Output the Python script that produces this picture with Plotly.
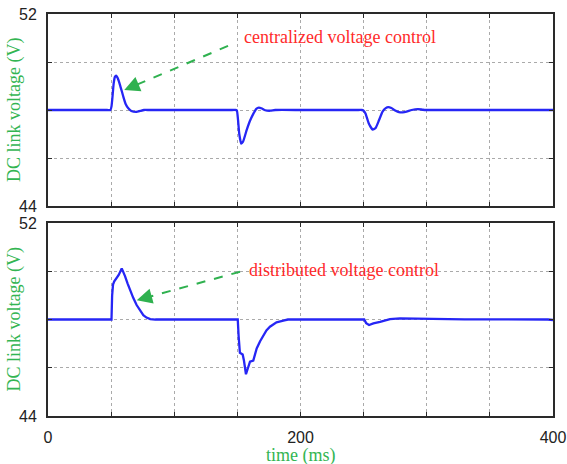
import plotly.graph_objects as go

# ---- data ----
t_central = [0, 20, 40, 47, 49.5, 50.3, 51, 52, 53, 54, 55, 57, 59.7, 61.5, 63.6, 66, 70, 73, 76, 80, 100, 130,
             145, 148.5, 149.6, 150.5, 151.5, 153, 154.5, 157.4, 160, 162.7, 165, 167, 169.5, 172, 176, 180, 200, 230,
             245, 248.5, 249.8, 251.5, 254, 257.2, 259.5, 262, 265, 267.5, 269.6, 272, 275, 278, 281, 284,
             288, 293, 297, 300, 320, 350, 380, 400]
v_central = [48, 48, 48, 48, 48, 48.15, 48.5, 49.1, 49.38, 49.43, 49.35, 49.05, 48.55, 48.25, 48.07, 47.96, 47.92, 47.96, 48.0, 48.0, 48, 48,
             48, 48, 47.98, 47.6, 47.0, 46.6, 46.68, 47.17, 47.55, 47.85, 48.05, 48.1, 48.06, 47.99, 47.97, 48.0, 48, 48,
             48, 48, 47.98, 47.85, 47.45, 47.18, 47.25, 47.55, 47.93, 48.08, 48.12, 48.08, 47.98, 47.91, 47.9, 47.93,
             48.0, 48.04, 48.01, 48, 48, 48, 48, 48]

t_distrib = [0, 50.3, 50.8, 51.5, 52.5, 54.4, 56, 58.4, 59.5, 61, 63, 65, 67.5, 70.2, 73, 75.5, 78, 81, 85,
             150.3, 151, 152, 154.2, 155.2, 156.8, 158, 160, 162.6, 163.8, 165.3, 168, 170.6, 173, 175.8,
             181, 186.4, 190, 250.5, 252, 254.3, 257.7, 263, 267, 270.9, 278.8, 294.7, 310, 330, 396, 400]
v_distrib = [48, 48, 49.0, 49.45, 49.58, 49.72, 49.85, 50.12, 50.0, 49.8, 49.5, 49.22, 48.9, 48.6, 48.35, 48.18, 48.08, 48.02, 48.0,
             48, 47.3, 46.62, 46.55, 46.3, 45.73, 45.95, 46.25, 46.3, 46.55, 46.8, 47.1, 47.35, 47.55, 47.7,
             47.88, 47.95, 48.0, 48.0, 47.85, 47.77, 47.84, 47.9, 47.97, 48.02, 48.05, 48.03, 48.02, 48.01, 48.0, 47.98]

x_ticks = [0, 50, 100, 150, 200, 250, 300, 350, 400]
x_ticktext = ["0", "", "", "", "200", "", "", "", "400"]
y_ticks = [44, 46, 48, 50, 52]
y_ticktext = ["44", "", "", "", "52"]

labels = ["centralized voltage control", "distributed voltage control"]
y_title = "DC link voltage (V)"
x_title = "time (ms)"

BLUE = "#2626f5"
GREEN_ARROW = "#2fb14f"
GREEN_TEXT = "#33b552"
RED = "#ff2a2a"
SERIF = "Liberation Serif"
SANS = "Liberation Sans"

fig = go.Figure()
fig.add_trace(go.Scatter(x=t_central, y=v_central, mode="lines", xaxis="x", yaxis="y",
                         line=dict(color=BLUE, width=2.3, shape="spline", smoothing=0.4),
                         showlegend=False, hoverinfo="skip"))
fig.add_trace(go.Scatter(x=t_distrib, y=v_distrib, mode="lines", xaxis="x2", yaxis="y2",
                         line=dict(color=BLUE, width=2.3),
                         showlegend=False, hoverinfo="skip"))

axis_common = dict(showline=True, linecolor="#2a2a2a", linewidth=2, mirror="ticks",
                   ticks="inside", ticklen=4, tickcolor="#2a2a2a", tickwidth=1,
                   showgrid=True, gridcolor="#aaaaaa", griddash="dot", gridwidth=1,
                   zeroline=False, tickfont=dict(family=SANS, size=16, color="#222222"),
                   ticklabelstandoff=6, automargin=False)

fig.update_layout(
    width=567, height=464,
    margin=dict(l=48, r=14, t=14, b=48),
    plot_bgcolor="white", paper_bgcolor="white",
    xaxis=dict(domain=[0, 1], range=[0, 400], tickvals=x_ticks, showticklabels=False,
               anchor="y", **axis_common),
    yaxis=dict(domain=[0.5224, 1], range=[44, 52], tickvals=y_ticks, ticktext=y_ticktext,
               anchor="x", **axis_common),
    xaxis2=dict(domain=[0, 1], range=[0, 400], tickvals=x_ticks, ticktext=x_ticktext,
                anchor="y2", **axis_common),
    yaxis2=dict(domain=[0, 0.48], range=[44, 52], tickvals=y_ticks, ticktext=y_ticktext,
                anchor="x2", **axis_common),
)

# labels
fig.add_annotation(x=153.7, y=51.04, xref="x", yref="y", text=labels[0], showarrow=False,
                   xanchor="left", yanchor="middle", font=dict(family=SERIF, size=18, color=RED))
fig.add_annotation(x=157.6, y=50.05, xref="x2", yref="y2", text=labels[1], showarrow=False,
                   xanchor="left", yanchor="middle", font=dict(family=SERIF, size=18, color=RED))

# dashed arrows
arrows = [("x", "y", 142.6, 50.67, 60.4, 48.83, (103.7, 44.0)),
          ("x2", "y2", 152.1, 49.98, 70.3, 48.80, (103.3, 28.3))]
for xr, yr, x0, y0, x1, y1, (dx, dy) in arrows:
    L = (dx * dx + dy * dy) ** 0.5
    fig.add_shape(type="line", xref=xr, yref=yr, x0=x0, y0=y0,
                  x1=x1 + (x0 - x1) * 0.09, y1=y1 + (y0 - y1) * 0.09,
                  line=dict(color=GREEN_ARROW, width=2, dash="dash"))
    fig.add_annotation(x=x1, y=y1, xref=xr, yref=yr, text="", showarrow=True,
                       ax=14 * dx / L, ay=-14 * dy / L, axref="pixel", ayref="pixel",
                       arrowhead=2, arrowsize=1.4, arrowwidth=2.2, arrowcolor=GREEN_ARROW,
                       standoff=0)

# axis titles
for dom in ([0.5224, 1], [0, 0.48]):
    fig.add_annotation(x=0, y=(dom[0] + dom[1]) / 2, xref="paper", yref="paper", text=y_title,
                       showarrow=False, textangle=-90, xanchor="center", yanchor="middle",
                       xshift=-33, font=dict(family=SERIF, size=18, color=GREEN_TEXT))
fig.add_annotation(x=0.5, y=0, xref="paper", yref="paper", text=x_title, showarrow=False,
                   xanchor="center", yanchor="middle", yshift=-39,
                   font=dict(family=SERIF, size=18, color=GREEN_TEXT))

fig.write_html("out.html", config={"displayModeBar": False},
               post_script="document.body.style.margin='0';document.body.style.overflow='hidden';")
